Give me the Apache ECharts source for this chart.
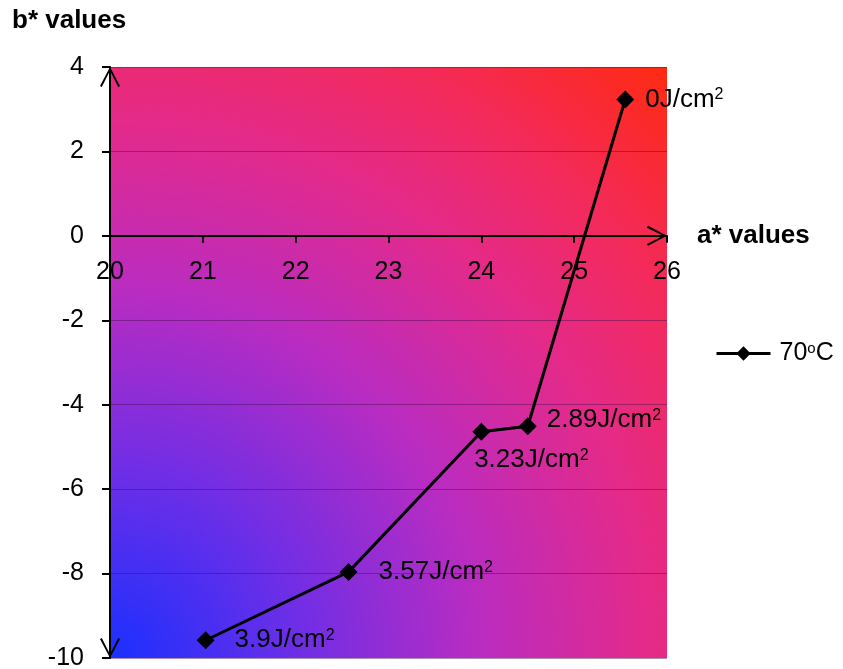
<!DOCTYPE html>
<html>
<head>
<meta charset="utf-8">
<script src="https://cdn.jsdelivr.net/npm/echarts@6/dist/echarts.min.js"></script>
<style>
  html, body { margin: 0; padding: 0; background: #ffffff; }
  #chart { width: 843px; height: 669px; }
</style>
</head>
<body>
<div id="chart"></div>
<script>
// CIELAB a*/b* coordinates of the samples, ordered by fluence
const aValues = [21.03, 22.57, 24.0, 24.5, 25.55];
const bValues = [-9.58, -7.96, -4.64, -4.51, 3.23];
const fluence = ['3.9', '3.57', '3.23', '2.89', '0'];
const seriesName = '70°C';

// axis ranges [min, max, step]
const aRange = [20, 26, 1];
const bRange = [-10, 4, 2];

// where each point's label sits
const labelSpots = [
  { position: 'right', distance: 20 },
  { position: 'right', distance: 21 },
  { position: 'bottom', distance: 6, offset: [50, 0] },
  { position: 'right', distance: 10, offset: [0, -6] },
  { position: 'right', distance: 11 }
];

const FONT = '"Liberation Sans", Arial, Helvetica, sans-serif';
const W = 843, H = 669;
const GRID = { left: 110, right: 176, top: 67, bottom: 11 };
const plotHeight = H - GRID.top - GRID.bottom;
// the a* axis crosses the b* axis at b* = 0
const aAxisShift = -plotHeight * (0 - bRange[0]) / (bRange[1] - bRange[0]);

// open chevron used as the axis arrow heads (points up before rotation)
const chevron = 'path://M10,0 L20,19 L18.2,20 L10,3.8 L1.8,20 L0,19 Z';

const points = aValues.map((a, i) => ({
  value: [a, bValues[i]],
  label: Object.assign({}, labelSpots[i], {
    formatter: fluence[i] + 'J/cm{sup|2}'
  })
}));

const chart = echarts.init(document.getElementById('chart'), null, { renderer: 'canvas' });

chart.setOption({
  animation: false,
  backgroundColor: '#ffffff',
  textStyle: { fontFamily: FONT },
  title: {
    text: 'b* values',
    left: 12,
    top: 8,
    padding: 0,
    textStyle: { fontFamily: FONT, fontSize: 26, fontWeight: 'bold', color: '#000' }
  },
  legend: {
    data: [seriesName],
    left: 710,
    top: 336,
    itemWidth: 54,
    itemHeight: 18,
    lineStyle: { width: 3, color: '#000' },
    itemStyle: { color: '#000' },
    formatter: () => '70{sup|o}C',
    textStyle: {
      fontFamily: FONT, fontSize: 25, color: '#000',
      padding: [0, 0, 0, 4],
      rich: { sup: { fontFamily: FONT, fontSize: 15, color: '#000', padding: [0, 0, 10, 0] } }
    }
  },
  grid: {
    left: GRID.left,
    right: GRID.right,
    top: GRID.top,
    bottom: GRID.bottom,
    outerBoundsMode: 'none',
    containLabel: false,
    show: true,
    borderWidth: 0,
    backgroundColor: new echarts.graphic.RadialGradient(0, 1, 1.458, [
      { offset: 0, color: '#1a30ff' },
      { offset: 0.22, color: '#6a2ee8' },
      { offset: 0.45, color: '#b82cc2' },
      { offset: 0.66, color: '#e42a8a' },
      { offset: 0.82, color: '#f42a58' },
      { offset: 1, color: '#ff2a10' }
    ])
  },
  xAxis: {
    type: 'value',
    min: aRange[0],
    max: aRange[1],
    interval: aRange[2],
    position: 'bottom',
    offset: aAxisShift,
    name: 'a* values',
    nameLocation: 'end',
    nameGap: 30,
    nameTextStyle: { fontFamily: FONT, fontSize: 26, fontWeight: 'bold', color: '#000', padding: [0, 0, 6, 0] },
    axisLine: {
      onZero: false,
      lineStyle: { color: '#000', width: 2 },
      symbol: ['none', chevron],
      symbolSize: [20, 20],
      symbolOffset: [0, -10]
    },
    axisTick: { show: true, inside: false, length: 7, lineStyle: { color: '#000', width: 2 } },
    axisLabel: { fontFamily: FONT, fontSize: 25, color: '#000', margin: 24 },
    splitLine: { show: false }
  },
  yAxis: {
    type: 'value',
    min: bRange[0],
    max: bRange[1],
    interval: bRange[2],
    axisLine: {
      onZero: false,
      lineStyle: { color: '#000', width: 2 },
      symbol: [chevron, chevron],
      symbolSize: [20, 20],
      symbolOffset: [10, -10]
    },
    axisTick: { show: true, inside: false, length: 8, lineStyle: { color: '#000', width: 2 } },
    axisLabel: { fontFamily: FONT, fontSize: 25, color: '#000', margin: 26 },
    splitLine: { show: true, lineStyle: { color: 'rgba(70, 10, 80, 0.45)', width: 1 } }
  },
  series: [
    {
      name: seriesName,
      type: 'line',
      data: points,
      symbol: 'diamond',
      symbolSize: 18,
      itemStyle: { color: '#000' },
      lineStyle: { color: '#000', width: 3 },
      label: {
        show: true,
        fontFamily: FONT,
        fontSize: 26,
        color: '#000',
        rich: { sup: { fontFamily: FONT, fontSize: 16, color: '#000', padding: [0, 0, 9, 0] } }
      },
      z: 5
    }
  ]
});
</script>
</body>
</html>
